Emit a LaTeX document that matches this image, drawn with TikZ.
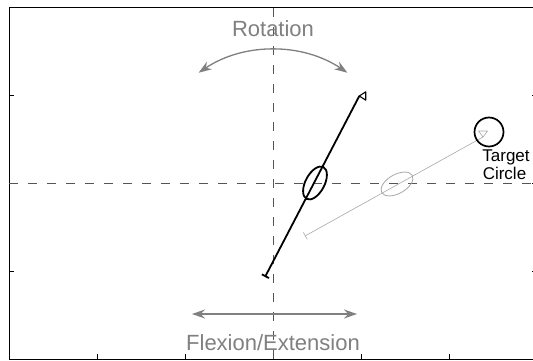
\documentclass[tikz,border=0pt]{standalone}
\usepackage{fontspec}
\setmainfont{Liberation Sans}
\usetikzlibrary{shapes.geometric, arrows.meta, positioning, calc}
\definecolor{labelgray}{HTML}{808080}
\definecolor{ghostgray}{HTML}{A8A8A8}
\definecolor{axisdash}{HTML}{555555}

\begin{document}
\begin{tikzpicture}[
    x=1pt, y=1pt,
    frame/.style={draw=black, line width=0.8pt},
    axistick/.style={draw=black, line width=0.8pt},
    crosshair/.style={draw=axisdash, line width=0.8pt, dash pattern=on 9pt off 10pt},
    motion/.style={draw=labelgray, line width=1.3pt, {Stealth[length=13pt, width=9pt]}-{Stealth[length=13pt, width=9pt]}},
    caption/.style={text=labelgray, font=\fontsize{22}{26}\selectfont, inner sep=0pt, anchor=base},
    note/.style={text=black, font=\fontsize{17}{20}\selectfont, inner sep=0pt, anchor=base},
    arm/.style={draw=black, line width=1.8pt, {Bar[width=8pt]}-},
    ghostarm/.style={draw=ghostgray, line width=0.6pt, {Bar[width=8pt]}-},
    grip/.style={ellipse, draw=black, line width=1.8pt, minimum width=36pt, minimum height=19pt, inner sep=0pt},
    ghostgrip/.style={ellipse, draw=ghostgray, line width=0.8pt, minimum width=35pt, minimum height=19pt, inner sep=0pt},
    armmark/.style={draw=black, line width=1.1pt, line join=round},
    ghostmark/.style={draw=ghostgray, line width=0.6pt, line join=round},
    target/.style={circle, draw=black, line width=1.7pt, minimum size=29pt, inner sep=0pt},
]

    \clip (0,0) rectangle (533,360);
    \fill[white] (0,0) rectangle (533,360);

    % axes
    \coordinate (O) at (273,177);
    \draw [frame] (9,1) rectangle (537,353);
    \foreach \y in {89,177,265} {
        \draw [axistick] (9,\y) -- (14,\y);
        \draw [axistick] (537,\y) -- (532,\y);
    }
    \foreach \x in {97,185,273,361,449}
        \draw [axistick] (\x,1) -- (\x,6);
    \draw [crosshair] (9,177) -- (537,177);
    \draw [crosshair] (273,1) -- (273,353);

    % motion labels
    \node (rotlabel) [caption] at (273,324) {Rotation};
    \draw [motion] ($(O)+(124:133)$) arc[start angle=124, end angle=56, radius=133];
    \node (flexlabel) [caption] at (273,10) {Flexion/Extension};
    \coordinate (flexleft) at (192,46);
    \coordinate (flexright) at (357,46);
    \draw [motion] (flexleft) -- (flexright);

    % current handle
    \coordinate (armbase) at (265,83);
    \coordinate (armtip) at (359.3,264);
    \draw [arm] (armbase) -- (armtip);
    \node (armgrip) [grip, rotate=62] at (315,177) {};
    \draw [armmark] (armtip) -- ++(6.4,4.15) -- ++(0,-8.3) -- cycle;

    % previous handle
    \coordinate (ghostbase) at (305,124);
    \coordinate (ghosttip) at (483,223);
    \draw [ghostarm] (ghostbase) -- (ghosttip);
    \node (ghostgrip) [ghostgrip, rotate=29.5] at (397,176) {};
    \draw [ghostmark] (ghosttip) -- (487.5,229) -- (478.5,229) -- cycle;

    % target
    \node (targetcircle) [target] at (489,228) {};
    \node (targetlabel) [note] at (506,199) {Target};
    \node (circlelabel) [note] at (504.5,181) {Circle};

\end{tikzpicture}
\end{document}
